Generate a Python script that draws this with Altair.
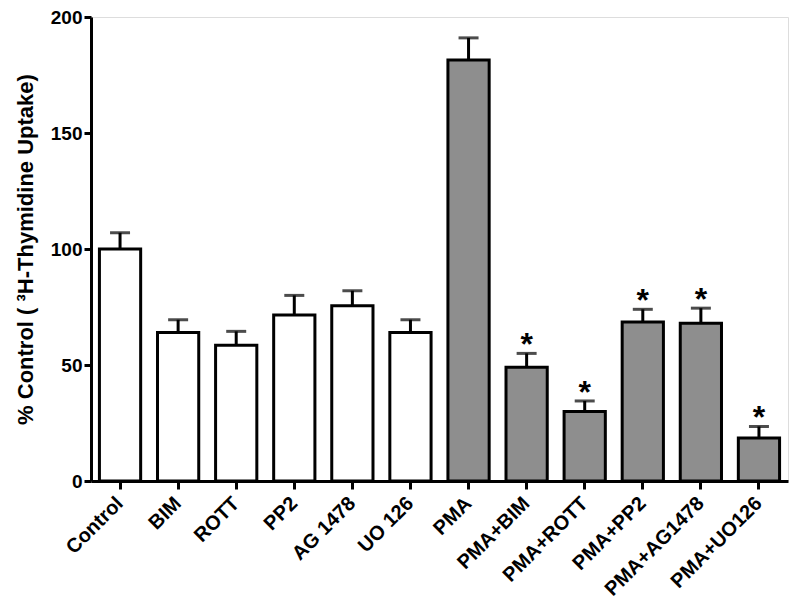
import altair as alt
import pandas as pd

categories = ["Control", "BIM", "ROTT", "PP2", "AG 1478", "UO 126",
              "PMA", "PMA+BIM", "PMA+ROTT", "PMA+PP2", "PMA+AG1478", "PMA+UO126"]
means = [100, 64, 58.5, 71.5, 75.5, 64, 181.5, 49, 30, 68.5, 68, 18.5]
err_top = [107, 69.5, 64.5, 80, 82, 69.5, 191, 55, 34.5, 74, 74.5, 23.5]
groups = ["ctrl"] * 6 + ["pma"] * 6
stars = ["", "", "", "", "", "", "", "*", "*", "*", "*", "*"]

df = pd.DataFrame({"cat": categories, "mean": means, "top": err_top,
                   "group": groups, "star": stars})

FONT = "Liberation Sans"
x = alt.X("cat:N", sort=categories, title=None,
          scale=alt.Scale(paddingInner=0.29, paddingOuter=0.145),
          axis=alt.Axis(labelAngle=-45, labelAlign="right", labelBaseline="middle",
                        labelFont=FONT, labelFontWeight="bold", labelFontSize=20,
                        labelColor="black", labelPadding=11,
                        domainColor="black", domainWidth=3,
                        tickColor="black", tickWidth=3, tickSize=8))
y_axis = alt.Axis(values=[0, 50, 100, 150, 200], grid=False,
                  title="% Control ( ³H-Thymidine Uptake)",
                  titleFont=FONT, titleFontWeight="bold", titleFontSize=22,
                  titleColor="black", titlePadding=13,
                  labelFont=FONT, labelFontWeight="bold", labelFontSize=19,
                  labelColor="black", labelPadding=2,
                  domainColor="black", domainWidth=3,
                  tickColor="black", tickWidth=3, tickSize=7)
yscale = alt.Scale(domain=[0, 200], nice=False)

base = alt.Chart(df)

bars = base.mark_bar(stroke="black", strokeWidth=3).encode(
    x=x,
    y=alt.Y("mean:Q", scale=yscale, axis=y_axis),
    fill=alt.Fill("group:N", scale=alt.Scale(domain=["ctrl", "pma"],
                                             range=["white", "#8e8e8e"]), legend=None),
)

rules = base.mark_rule(color="black", strokeWidth=3).encode(
    x=alt.X("cat:N", sort=categories),
    y=alt.Y("mean:Q"),
    y2="top:Q",
)

caps = base.mark_tick(color="black", thickness=3, size=20).encode(
    x=alt.X("cat:N", sort=categories),
    y=alt.Y("top:Q"),
)

star_text = base.mark_text(font=FONT, fontWeight="bold", fontSize=32,
                           baseline="alphabetic", align="center", dy=2,
                           color="black").encode(
    x=alt.X("cat:N", sort=categories),
    y=alt.Y("top:Q"),
    text="star:N",
)

chart = alt.layer(bars, rules, caps, star_text).properties(
    width=697, height=464,
    autosize=alt.AutoSizeParams(type="none"),
    padding={"left": 83, "top": 9, "right": 4, "bottom": 127},
).configure_view(stroke=None).configure(background="white")

chart.save("out.html", embed_options={"renderer": "svg", "actions": False})
